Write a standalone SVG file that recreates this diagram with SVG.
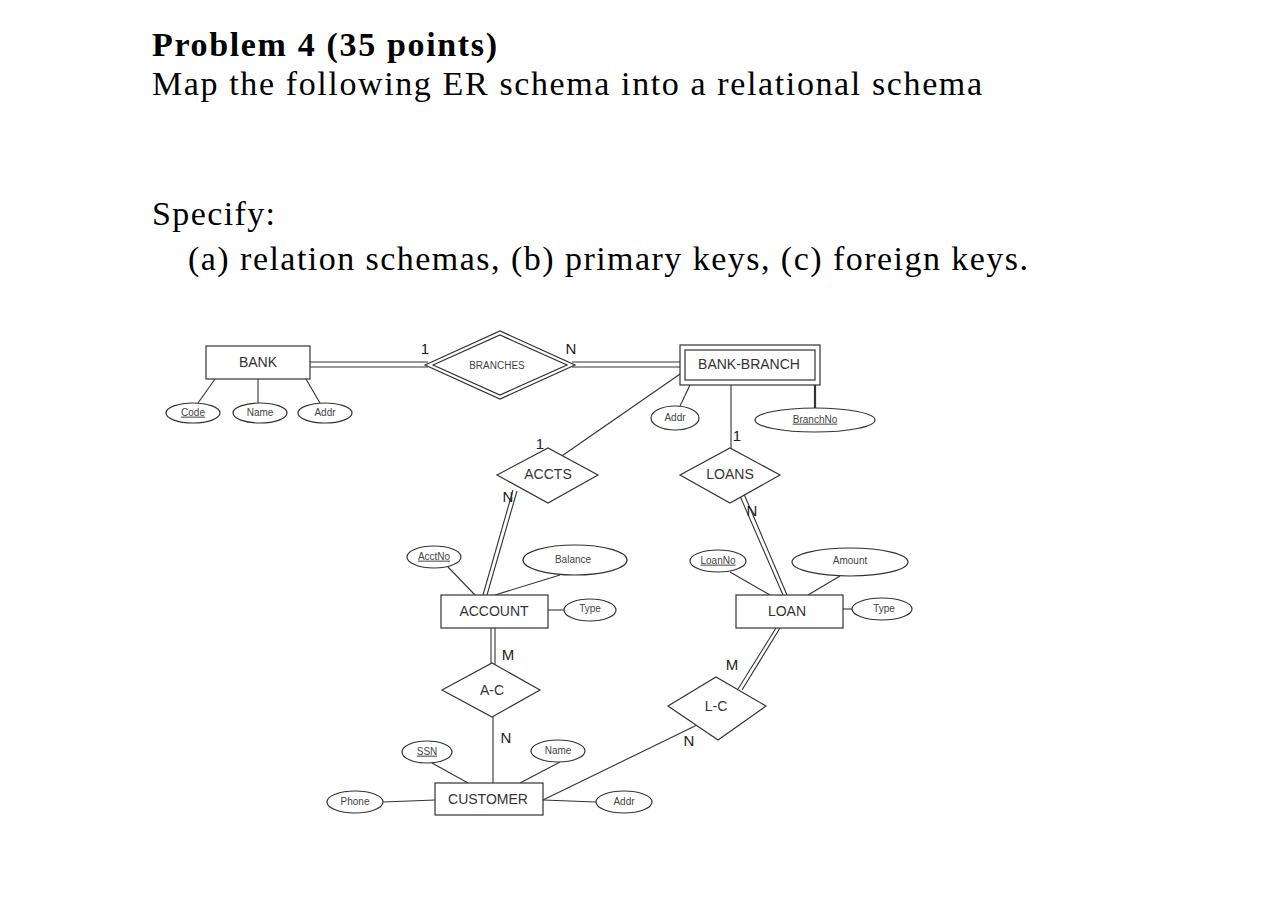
<svg xmlns="http://www.w3.org/2000/svg" width="1284" height="900" viewBox="0 0 1284 900">
<style>
.h{font-family:"Liberation Serif",serif;font-size:34px;fill:#000}
.e{fill:#fff;stroke:#333;stroke-width:1.2}
.t{font-family:"Liberation Sans",sans-serif;font-size:14px;fill:#333;text-anchor:middle;dominant-baseline:middle}
.s{font-family:"Liberation Sans",sans-serif;font-size:10px;fill:#444;text-anchor:middle;dominant-baseline:middle}
.c{font-family:"Liberation Sans",sans-serif;font-size:15px;fill:#222;text-anchor:middle;dominant-baseline:middle}
#conn line,#conn polyline{stroke:#333;stroke-width:1.1;fill:none}
</style>
<rect width="1284" height="900" fill="#fff"/>
<text class="h" x="152" y="56" font-weight="bold" textLength="345">Problem 4 (35 points)</text>
<text class="h" x="152" y="95" textLength="830">Map the following ER schema into a relational schema</text>
<text class="h" x="152" y="225" textLength="123">Specify:</text>
<text class="h" x="188" y="270" textLength="840">(a) relation schemas, (b) primary keys, (c) foreign keys.</text>
<g id="conn">
<line x1="310" y1="362" x2="428" y2="362"/><line x1="310" y1="367" x2="428" y2="367"/>
<line x1="572" y1="362" x2="680" y2="362"/><line x1="572" y1="367" x2="680" y2="367"/>
<line x1="215" y1="379" x2="198" y2="403"/><line x1="258" y1="379" x2="258" y2="403"/><line x1="306" y1="379" x2="320" y2="403"/>
<line x1="690" y1="385" x2="680" y2="406"/>
<line x1="815" y1="385" x2="815" y2="408" style="stroke-width:2.2"/>
<line x1="683" y1="372" x2="556" y2="460"/>
<line x1="731" y1="385" x2="731" y2="448"/>
<line x1="513" y1="490" x2="483" y2="595"/><line x1="517" y1="491" x2="487" y2="595"/>
<line x1="740" y1="496" x2="783" y2="595"/><line x1="744" y1="494" x2="787" y2="595"/>
<line x1="448" y1="567" x2="475" y2="595"/><line x1="560" y1="575" x2="495" y2="595"/><line x1="548" y1="610" x2="564" y2="610"/>
<line x1="730" y1="572" x2="770" y2="595"/><line x1="840" y1="576" x2="808" y2="595"/><line x1="843" y1="609" x2="852" y2="609"/>
<line x1="491" y1="628" x2="491" y2="664"/><line x1="495" y1="628" x2="495" y2="664"/>
<line x1="493" y1="717" x2="493" y2="783"/>
<line x1="776" y1="628" x2="738" y2="689"/><line x1="780" y1="628" x2="742" y2="690"/>
<line x1="697" y1="725" x2="543" y2="800"/>
<line x1="432" y1="763" x2="468" y2="783"/><line x1="560" y1="762" x2="520" y2="783"/>
<line x1="383" y1="802" x2="435" y2="800"/><line x1="543" y1="800" x2="596" y2="802"/>
</g>
<g id="BANK"><rect class="e" x="206" y="346" width="104" height="33"/><text class="t" x="258" y="363">BANK</text></g>
<g id="BRANCHES"><polygon class="e" points="425,365 500,331 575,365 500,399"/><polygon class="e" points="433,365 500,335 567,365 500,395"/><text class="s" x="497" y="366">BRANCHES</text></g>
<text class="c" x="425" y="350">1</text><text class="c" x="571" y="350">N</text>
<g id="BANK-BRANCH"><rect class="e" x="680" y="345" width="140" height="40"/><rect class="e" x="685" y="350" width="130" height="30"/><text class="t" x="749" y="365">BANK-BRANCH</text></g>
<g id="Code"><ellipse class="e" cx="193" cy="413" rx="27" ry="10"/><text class="s" x="193" y="413" text-decoration="underline">Code</text></g>
<g id="BName"><ellipse class="e" cx="260" cy="413" rx="27" ry="10"/><text class="s" x="260" y="413">Name</text></g>
<g id="BAddr"><ellipse class="e" cx="325" cy="413" rx="27" ry="10"/><text class="s" x="325" y="413">Addr</text></g>
<g id="BBAddr"><ellipse class="e" cx="675" cy="418" rx="24" ry="12"/><text class="s" x="675" y="418">Addr</text></g>
<g id="BranchNo"><ellipse class="e" cx="815" cy="420" rx="60" ry="12"/><text class="s" x="815" y="420" text-decoration="underline">BranchNo</text></g>
<g id="ACCTS"><polygon class="e" points="497,475 548,448 598,475 548,503"/><text class="t" x="548" y="475">ACCTS</text></g>
<g id="LOANS"><polygon class="e" points="680,475 730,448 780,475 730,503"/><text class="t" x="730" y="475">LOANS</text></g>
<text class="c" x="540" y="445">1</text><text class="c" x="737" y="437">1</text>
<text class="c" x="508" y="498">N</text><text class="c" x="752" y="512">N</text>
<g id="ACCOUNT"><rect class="e" x="441" y="595" width="107" height="33"/><text class="t" x="494" y="612">ACCOUNT</text></g>
<g id="LOAN"><rect class="e" x="736" y="595" width="107" height="33"/><text class="t" x="787" y="612">LOAN</text></g>
<g id="AcctNo"><ellipse class="e" cx="434" cy="557" rx="27" ry="11"/><text class="s" x="434" y="557" text-decoration="underline">AcctNo</text></g>
<g id="Balance"><ellipse class="e" cx="575" cy="560" rx="52" ry="15"/><text class="s" x="573" y="560">Balance</text></g>
<g id="AType"><ellipse class="e" cx="590" cy="610" rx="26" ry="11"/><text class="s" x="590" y="609">Type</text></g>
<g id="LoanNo"><ellipse class="e" cx="718" cy="561" rx="28" ry="11"/><text class="s" x="718" y="561" text-decoration="underline">LoanNo</text></g>
<g id="Amount"><ellipse class="e" cx="850" cy="562" rx="58" ry="14"/><text class="s" x="850" y="561">Amount</text></g>
<g id="LType"><ellipse class="e" cx="882" cy="609" rx="30" ry="11"/><text class="s" x="884" y="609">Type</text></g>
<g id="A-C"><polygon class="e" points="442,690 492,663 540,690 492,717"/><text class="t" x="492" y="691">A-C</text></g>
<g id="L-C"><polygon class="e" points="668,706 716,677 766,706 718,740"/><text class="t" x="716" y="707">L-C</text></g>
<text class="c" x="508" y="656">M</text><text class="c" x="732" y="666">M</text>
<text class="c" x="506" y="739">N</text><text class="c" x="689" y="742">N</text>
<g id="CUSTOMER"><rect class="e" x="435" y="783" width="108" height="32"/><text class="t" x="488" y="800">CUSTOMER</text></g>
<g id="SSN"><ellipse class="e" cx="427" cy="752" rx="25" ry="11"/><text class="s" x="427" y="752" text-decoration="underline">SSN</text></g>
<g id="CName"><ellipse class="e" cx="558" cy="751" rx="27" ry="11"/><text class="s" x="558" y="751">Name</text></g>
<g id="Phone"><ellipse class="e" cx="355" cy="802" rx="28" ry="11"/><text class="s" x="355" y="802">Phone</text></g>
<g id="CAddr"><ellipse class="e" cx="624" cy="802" rx="28" ry="11"/><text class="s" x="624" y="802">Addr</text></g>
</svg>
